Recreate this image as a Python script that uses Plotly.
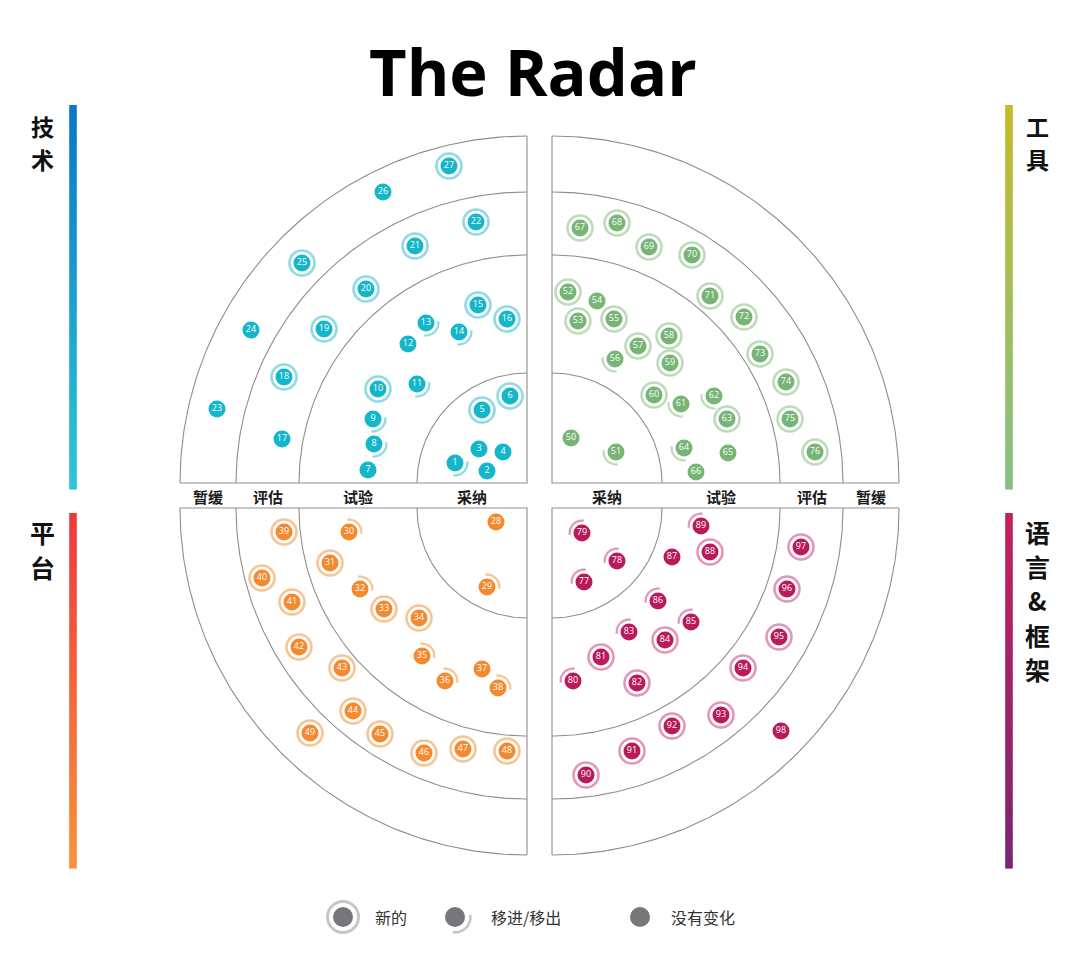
import numpy as np
import plotly.graph_objects as go

# ---------------- data ----------------
ring_names = ["采纳", "试验", "评估", "暂缓"]
legend_labels = ["新的", "移进/移出", "没有变化"]

# blip offsets from the radar centre lines (dx = sideways, dy = up/down), status: n=new, m=moved, c=no change
tech_ids = list(range(1, 28))
tech_dx = [72, 40, 48, 24, 45, 17, 159, 153, 154, 149, 110, 119, 101, 68, 49, 20, 245, 243, 203, 161, 112, 51,
           310, 276, 225, 144, 78]
tech_dy = [20, 12, 34, 31, 73, 87, 13, 39, 64, 94, 99, 139, 160, 151, 178, 164, 44, 106, 154, 194, 237, 261,
           74, 153, 220, 291, 317]
tech_status = "mcccnncmmnmcmmnncnnnnnccncn"

tools_ids = list(range(50, 77))
tools_dx = [19, 64, 16, 26, 45, 62, 63, 86, 117, 118, 102, 129, 162, 175, 132, 176, 144,
            28, 65, 97, 140, 158, 192, 208, 234, 238, 263]
tools_dy = [45, 31, 191, 162, 182, 164, 124, 137, 147, 120, 88, 79, 87, 64, 35, 30, 11,
            255, 260, 236, 228, 187, 166, 129, 101, 64, 31]
tools_status = "cmnncnmnnnnmmnmcc" + "nnnnnnnnnn"

plat_ids = list(range(28, 50))
plat_dx = [31, 40, 178, 197, 167, 143, 108, 105, 82, 45, 29, 243, 265, 235, 228, 185, 174, 147, 103, 64, 20, 217]
plat_dy = [14, 79, 24, 55, 81, 101, 110, 148, 173, 161, 180, 24, 70, 94, 139, 160, 203, 226, 245, 241, 243, 225]
plat_status = "cmmnmnnmmcm" + "nnnnnnnnnnn"

lang_ids = list(range(77, 99))
lang_dx = [32, 65, 30, 21, 49, 85, 77, 113, 139, 106, 120, 158, 149, 34, 80, 120, 169, 191, 227, 235, 249, 229]
lang_dy = [74, 53, 25, 173, 149, 175, 124, 132, 114, 93, 49, 44, 18, 267, 243, 218, 207, 160, 129, 81, 39, 223]
lang_status = "mmmmnnmnmmcnm" + "nnnnnnnn" + "c"

# ---------------- layout constants ----------------
W, H = 1080, 955
RADII = [110, 228, 291, 347]
LINE = "#8e8e8e"

quadrants = [
    dict(label=["技", "术"], ids=tech_ids, dx=tech_dx, dy=tech_dy, status=tech_status,
         cx=527, cy=483, sx=-1, sy=-1, color="#14b6ca", light="#8ddbe4",
         bar=("#0a78c6", "#2ec6d6"), bar_x=73, bar_y=(105, 489),
         lab_x=42, lab_y=126, lab_step=33, lab_size=23),
    dict(label=["工", "具"], ids=tools_ids, dx=tools_dx, dy=tools_dy, status=tools_status,
         cx=552, cy=483, sx=1, sy=-1, color="#76b575", light="#bcdcb8",
         bar=("#c4bb2a", "#86bf86"), bar_x=1009, bar_y=(105, 489),
         lab_x=1037, lab_y=126, lab_step=33, lab_size=23),
    dict(label=["平", "台"], ids=plat_ids, dx=plat_dx, dy=plat_dy, status=plat_status,
         cx=527, cy=508, sx=-1, sy=1, color="#f5892e", light="#f9c493",
         bar=("#ee3a3c", "#f8923a"), bar_x=73, bar_y=(513, 868),
         lab_x=42, lab_y=532, lab_step=34.5, lab_size=25),
    dict(label=["语", "言", "&", "框", "架"], ids=lang_ids, dx=lang_dx, dy=lang_dy, status=lang_status,
         cx=552, cy=508, sx=1, sy=1, color="#bb1a5a", light="#e595b8",
         bar=("#c51f5c", "#7a2672"), bar_x=1009, bar_y=(513, 868),
         lab_x=1037, lab_y=532, lab_step=34.2, lab_size=25),
]


def hex_mix(c1, c2, f):
    a = [int(c1[i:i + 2], 16) for i in (1, 3, 5)]
    b = [int(c2[i:i + 2], 16) for i in (1, 3, 5)]
    return "#%02x%02x%02x" % tuple(round(a[k] + (b[k] - a[k]) * f) for k in range(3))


fig = go.Figure()
shapes = []
annotations = []

for q in quadrants:
    cx, cy, sx, sy = q["cx"], q["cy"], q["sx"], q["sy"]

    # quadrant frame: arcs + two straight edges
    t = np.linspace(0, np.pi / 2, 120)
    xs, ys = [], []
    for r in RADII:
        xs += list(cx + sx * r * np.cos(t)) + [None]
        ys += list(cy + sy * r * np.sin(t)) + [None]
    xs += [cx + sx * RADII[-1], cx, cx]
    ys += [cy, cy, cy + sy * RADII[-1]]
    fig.add_trace(go.Scatter(x=xs, y=ys, mode="lines", line=dict(color=LINE, width=1.1),
                             hoverinfo="skip", showlegend=False))

    bx = np.array([cx + sx * d for d in q["dx"]], dtype=float)
    by = np.array([cy + sy * d for d in q["dy"]], dtype=float)
    st = np.array(list(q["status"]))

    # outer ring for new blips
    m_new = st == "n"
    fig.add_trace(go.Scatter(x=bx[m_new], y=by[m_new], mode="markers",
                             marker=dict(symbol="circle-open", size=25, color=q["light"],
                                         line=dict(width=2.6, color=q["light"])),
                             hoverinfo="skip", showlegend=False))

    # partial arc for moved blips, facing the centre
    u = np.linspace(np.radians(-8), np.radians(98), 30)
    ax, ay = [], []
    for x0, y0 in zip(bx[st == "m"], by[st == "m"]):
        ax += list(x0 - sx * 12.5 * np.cos(u)) + [None]
        ay += list(y0 - sy * 12.5 * np.sin(u)) + [None]
    fig.add_trace(go.Scatter(x=ax, y=ay, mode="lines", line=dict(color=q["light"], width=2.2),
                             hoverinfo="skip", showlegend=False))

    # the blips
    fig.add_trace(go.Scatter(x=bx, y=by, mode="markers+text",
                             marker=dict(size=17, color=q["color"], line=dict(width=0)),
                             text=[str(i) for i in q["ids"]], textposition="middle center",
                             textfont=dict(family="Open Sans", size=9, color="white"),
                             hovertext=[str(i) for i in q["ids"]], hoverinfo="text", showlegend=False))

    # ring names in the middle band (once per side)
    if sy < 0:
        edges = [0] + RADII
        for k, name in enumerate(ring_names):
            mid = (edges[k] + edges[k + 1]) / 2
            annotations.append(dict(x=cx + sx * mid, y=496, text="<b>%s</b>" % name, showarrow=False,
                                    font=dict(family="Noto Sans CJK SC", size=15, color="#1a1a1a"),
                                    xanchor="center", yanchor="middle"))

    # gradient side bar
    y0, y1 = q["bar_y"]
    n = 60
    for k in range(n):
        ya = y0 + (y1 - y0) * k / n
        yb = y0 + (y1 - y0) * (k + 1) / n
        shapes.append(dict(type="rect", xref="x", yref="y", x0=q["bar_x"] - 3.8, x1=q["bar_x"] + 3.8,
                           y0=ya, y1=yb + 0.6, line=dict(width=0),
                           fillcolor=hex_mix(q["bar"][0], q["bar"][1], k / (n - 1)), layer="below"))

    # quadrant name, stacked vertically one character per line
    for k, ch in enumerate(q["label"]):
        annotations.append(dict(x=q["lab_x"], y=q["lab_y"] + k * q["lab_step"], text="<b>%s</b>" % ch,
                                showarrow=False, borderpad=0,
                                font=dict(family="Noto Sans CJK SC", size=q["lab_size"], color="#111111"),
                                xanchor="center", yanchor="middle"))

# ---------------- legend ----------------
grey, grey_light = "#77777b", "#c6c6c6"
leg_x = [343, 455, 640]
leg_tx = [391, 526, 703]
leg_y = 917
fig.add_trace(go.Scatter(x=[leg_x[0]], y=[leg_y], mode="markers",
                         marker=dict(symbol="circle-open", size=31, color=grey_light,
                                     line=dict(width=3, color=grey_light)),
                         hoverinfo="skip", showlegend=False))
u = np.linspace(np.radians(-8), np.radians(98), 30)
fig.add_trace(go.Scatter(x=leg_x[1] + 15.5 * np.cos(u), y=leg_y + 15.5 * np.sin(u), mode="lines",
                         line=dict(color=grey_light, width=2.6), hoverinfo="skip", showlegend=False))
fig.add_trace(go.Scatter(x=leg_x, y=[leg_y] * 3, mode="markers",
                         marker=dict(size=20, color=grey), hoverinfo="skip", showlegend=False))
for x, lab in zip(leg_tx, legend_labels):
    annotations.append(dict(x=x, y=leg_y, text=lab, showarrow=False,
                            font=dict(family="Noto Sans CJK SC", size=16, color="#333333"),
                            xanchor="center", yanchor="middle"))

# ---------------- title ----------------
annotations.append(dict(x=533, y=71, text="<b>The Radar</b>", showarrow=False,
                        font=dict(family="Open Sans", size=65, color="#000000"),
                        xanchor="center", yanchor="middle"))

fig.update_layout(
    width=W, height=H, autosize=False,
    margin=dict(l=0, r=0, t=0, b=0),
    paper_bgcolor="white", plot_bgcolor="white",
    xaxis=dict(range=[0, W], visible=False, fixedrange=True),
    yaxis=dict(range=[H, 0], visible=False, fixedrange=True),
    shapes=shapes, annotations=annotations,
)

fig.write_html("out.html", config={"displayModeBar": False},
               post_script="document.body.style.margin='0';")
